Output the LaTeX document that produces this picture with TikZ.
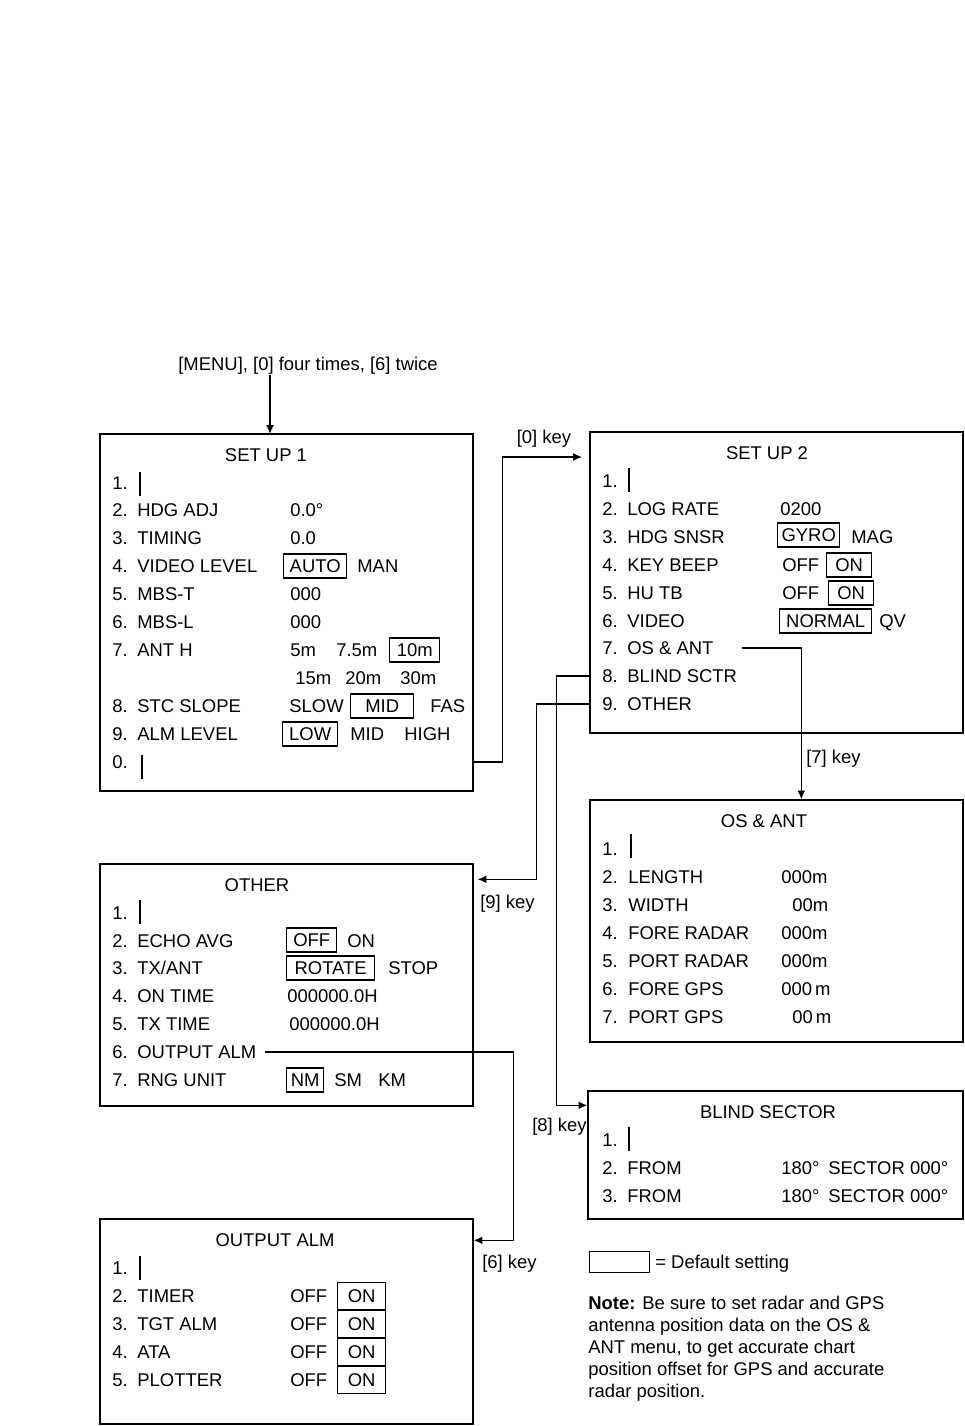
\documentclass[tikz,border=0pt]{standalone}
\usepackage{fontspec}
\setmainfont{Liberation Sans}
\usetikzlibrary{positioning, calc, arrows.meta}

\tikzset{
  curtop/.pic={\draw[line width=0.9pt] (0,-12) -- (0,12); \fill (-1.5,-12) rectangle (0.45,-6);},
  curbot/.pic={\draw[line width=0.9pt] (0,-12) -- (0,12); \fill (-1.5,12) rectangle (0.45,6);}
}

\begin{document}
\begin{tikzpicture}[x=0.02cm, y=-0.02cm,
        every node/.style={font=\fontsize{10.5}{12.5}\selectfont},
        menubox/.style={rectangle, draw, line width=0.8pt, minimum width=7.46cm, inner sep=0pt},
        item/.style={anchor=west, inner sep=0pt, text height=7.5pt, text depth=0pt},
        head/.style={inner sep=0pt, text height=7.5pt, text depth=0pt},
        dflt/.style={rectangle, draw, line width=0.8pt, anchor=west, inner sep=0pt, minimum height=0.48cm, text height=7.5pt, text depth=0pt},
        link/.style={line width=0.8pt, -{Latex[length=5pt, width=4.5pt]}}
    ]
        \useasboundingbox (0,0) rectangle (964,1426);

        % entry
        \node[head] (start) at (308,364) {[MENU], [0] four times, [6] twice};
        \coordinate (s1in) at (270,434);
        \draw[link] ($(start.south -| s1in)+(0,4)$) -- (s1in);

        % SET UP 1
        \node[menubox, minimum height=7.14cm] (setup1) at (286.5,612.5) {};
        \node[head] (s1-head) at (266,455) {SET UP 1};
        \node[item] (s1-1) at (112,483) {1.};
        \pic at (140,484) {curtop};
        \foreach \n/\lab/\y in {2/HDG ADJ/510, 3/TIMING/538, 4/VIDEO LEVEL/566, 5/MBS-T/594, 6/MBS-L/622, 7/ANT H/650, 8/STC SLOPE/706, 9/ALM LEVEL/734} {
            \node[item] (s1-\n) at (112,\y) {\n.};
            \node[item] (s1-\n-lab) at (137,\y) {\lab};
        }
        \node[item] (s1-0) at (112,762) {0.};
        \pic at (142,767) {curbot};
        \node[item] (s1-v2) at (290,510) {0.0°};
        \node[item] (s1-v3) at (290,538) {0.0};
        \node[dflt, minimum width=1.26cm] (s1-auto) at (283,566) {AUTO};
        \node[item] (s1-man) at (357,566) {MAN};
        \node[item] (s1-v5) at (290,594) {000};
        \node[item] (s1-v6) at (290,622) {000};
        \node[item] (s1-5m) at (290,650) {5m};
        \node[item] (s1-75m) at (336,650) {7.5m};
        \node[dflt, minimum width=1cm] (s1-10m) at (389,650) {10m};
        \node[item] (s1-15m) at (295,678) {15m};
        \node[item] (s1-20m) at (345,678) {20m};
        \node[item] (s1-30m) at (400,678) {30m};
        \node[item] (s1-slow) at (289,706) {SLOW};
        \node[dflt, minimum width=1.26cm] (s1-mid) at (350,706) {MID};
        \node[item] (s1-fas) at (430,706) {FAS};
        \node[dflt, minimum width=1.1cm] (s1-low) at (282,734) {LOW};
        \node[item] (s1-mid2) at (350,734) {MID};
        \node[item] (s1-high) at (404,734) {HIGH};

        % SET UP 2
        \node[menubox, minimum height=6.02cm] (setup2) at (776.5,582.5) {};
        \node[head] (s2-head) at (767,453) {SET UP 2};
        \node[item] (s2-1) at (602,481) {1.};
        \pic at (629,480) {curtop};
        \foreach \n/\lab/\y in {2/LOG RATE/509, 3/HDG SNSR/537, 4/KEY BEEP/565, 5/HU TB/593, 6/VIDEO/621, 7/OS \& ANT/648, 8/BLIND SCTR/676, 9/OTHER/704} {
            \node[item] (s2-\n) at (602,\y) {\n.};
            \node[item] (s2-\n-lab) at (627,\y) {\lab};
        }
        \node[item] (s2-v2) at (780,509) {0200};
        \node[dflt, minimum width=1.24cm] (s2-gyro) at (777,535) {GYRO};
        \node[item] (s2-mag) at (851,537) {MAG};
        \node[item] (s2-off4) at (782,565) {OFF};
        \node[dflt, minimum width=0.9cm] (s2-on4) at (826,565) {ON};
        \node[item] (s2-off5) at (782,593) {OFF};
        \node[dflt, minimum width=0.9cm] (s2-on5) at (828,593) {ON};
        \node[dflt, minimum width=1.84cm] (s2-normal) at (779,621) {NORMAL};
        \node[item] (s2-qv) at (879,621) {QV};

        % OS & ANT
        \node[menubox, minimum height=4.84cm] (osant) at (776.5,921) {};
        \node[head] (os-head) at (764,821) {OS \& ANT};
        \node[item] (os-1) at (602,849) {1.};
        \pic at (631,846) {curtop};
        \foreach \n/\lab/\val/\vx/\y in {2/LENGTH/000m/781/877, 3/WIDTH/00m/792/905, 4/FORE RADAR/000m/781/933, 5/PORT RADAR/000m/781/961, 6/FORE GPS/000\,m/781/989, 7/PORT GPS/00\,m/792/1017} {
            \node[item] (os-\n) at (602,\y) {\n.};
            \node[item] (os-\n-lab) at (628,\y) {\lab};
            \node[item] (os-\n-val) at (\vx,\y) {\val};
        }

        % OTHER
        \node[menubox, minimum height=4.84cm] (other) at (286.5,985) {};
        \node[head] (o-head) at (257,885) {OTHER};
        \node[item] (o-1) at (112,913) {1.};
        \pic at (140,912) {curtop};
        \foreach \n/\lab/\y in {2/ECHO AVG/941, 3/{TX/ANT}/968, 4/ON TIME/996, 5/TX TIME/1024, 6/OUTPUT ALM/1052, 7/RNG UNIT/1080} {
            \node[item] (o-\n) at (112,\y) {\n.};
            \node[item] (o-\n-lab) at (137,\y) {\lab};
        }
        \node[dflt, minimum width=1cm] (o-off) at (286,940) {OFF};
        \node[item] (o-on) at (347,941) {ON};
        \node[dflt, minimum width=1.76cm] (o-rotate) at (286,968) {ROTATE};
        \node[item] (o-stop) at (388,968) {STOP};
        \node[item] (o-v4) at (287,996) {000000.0H};
        \node[item] (o-v5) at (289,1024) {000000.0H};
        \node[dflt, minimum width=0.74cm] (o-nm) at (286,1080) {NM};
        \node[item] (o-sm) at (334,1080) {SM};
        \node[item] (o-km) at (378,1080) {KM};

        % BLIND SECTOR
        \node[menubox, minimum width=7.5cm, minimum height=2.56cm] (blind) at (775.5,1155) {};
        \node[head] (b-head) at (768,1112) {BLIND SECTOR};
        \node[item] (b-1) at (602,1140) {1.};
        \pic at (629,1139) {curtop};
        \foreach \n/\y in {2/1168, 3/1196} {
            \node[item] (b-\n) at (602,\y) {\n.};
            \node[item] (b-\n-lab) at (627,\y) {FROM};
            \node[item] (b-\n-from) at (781,\y) {180°};
            \node[item] (b-\n-sec) at (828,\y) {SECTOR 000°};
        }

        % OUTPUT ALM
        \node[menubox, minimum height=4.1cm] (outalm) at (286.5,1321.5) {};
        \node[head] (a-head) at (275,1240) {OUTPUT ALM};
        \node[item] (a-1) at (112,1268) {1.};
        \pic at (140,1268) {curtop};
        \foreach \n/\lab/\y in {2/TIMER/1296, 3/TGT ALM/1324, 4/ATA/1352, 5/PLOTTER/1380} {
            \node[item] (a-\n) at (112,\y) {\n.};
            \node[item] (a-\n-lab) at (137,\y) {\lab};
            \node[item] (a-\n-off) at (290,\y) {OFF};
            \node[dflt, minimum width=0.96cm, minimum height=0.54cm] (a-\n-on) at (337,\y) {ON};
        }

        % key connectors
        \coordinate (s2in) at (582,457);
        \draw[link] (setup1.east |- s1-0) -- ++(29,0) |- (s2in);
        \node[head] (k0) at (544,437) {[0] key};
        \draw[link] ($(s2-7-lab.east)+(28,0)$) -| ($(osant.north west)+(212,0)$);
        \node[item] (k7) at (806,757) {[7] key};
        \draw[link] (setup2.west |- s2-9) -- ++(-53,0) |- ($(other.north east)+(4,16)$);
        \node[item] (k9) at (480,902) {[9] key};
        \draw[link] (setup2.west |- s2-8) -- ++(-33,0) |- ($(blind.north west)+(0,15)$);
        \node[item] (k8) at (532,1125) {[8] key};
        \draw[link] ($(o-6-lab.east)+(8,0)$) -| ($(outalm.north east)+(40,22)$) -- ($(outalm.north east)+(0,22)$);
        \node[item] (k6) at (482,1262) {[6] key};

        % legend and note
        \node[dflt, minimum width=1.2cm, minimum height=0.42cm] (legbox) at (589,1262) {};
        \node[item] (legtext) at (655,1262) {= Default setting};
        \node[anchor=north west, inner sep=0pt, align=left] (note) at (588,1296) {\textbf{Note:} Be sure to set radar and GPS\\antenna position data on the OS \&\\ANT menu, to get accurate chart\\position offset for GPS and accurate\\radar position.};
    \end{tikzpicture}
\end{document}
